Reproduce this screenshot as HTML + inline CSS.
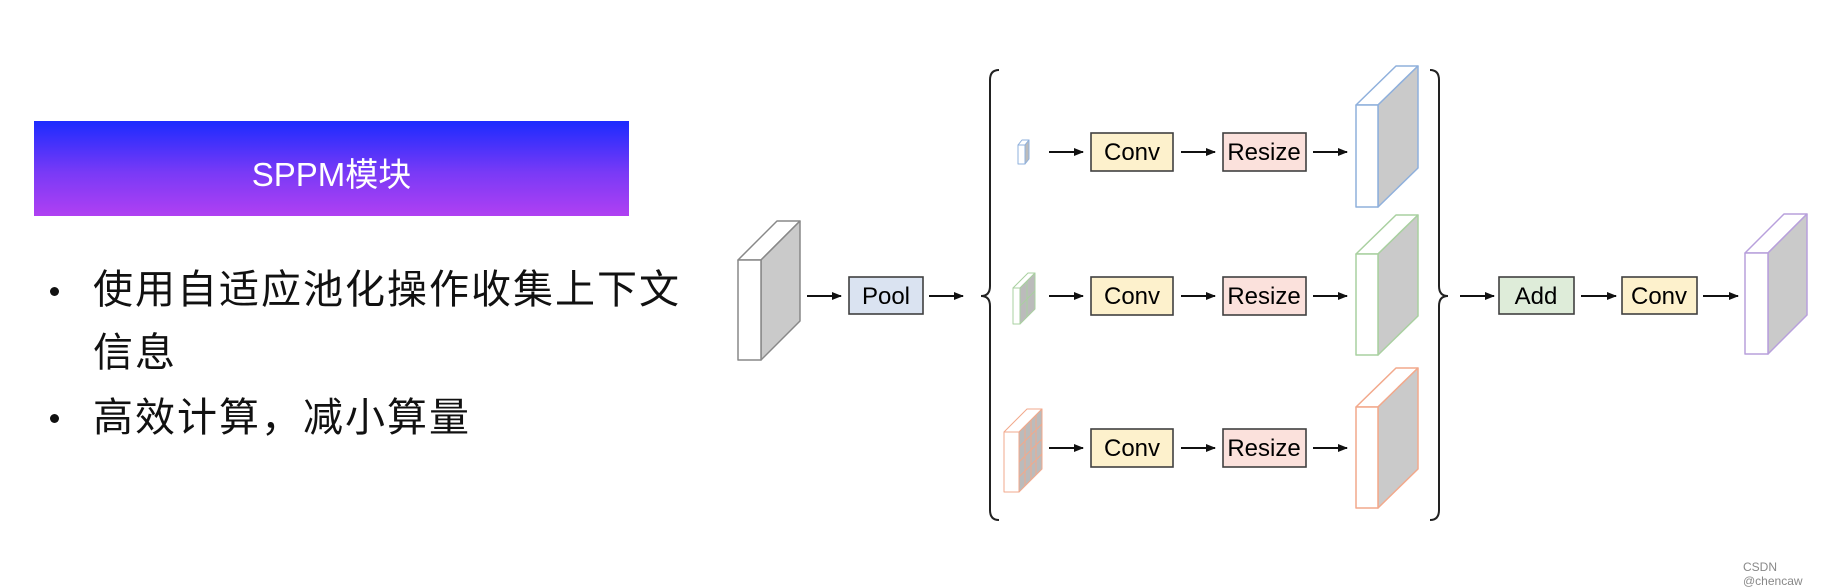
<!DOCTYPE html>
<html><head><meta charset="utf-8"><style>
html,body{margin:0;padding:0;background:#fff;}
body{width:1826px;height:583px;position:relative;overflow:hidden;font-family:"Liberation Sans","Noto Sans CJK SC",sans-serif;}
.hdr{position:absolute;left:34px;top:121px;width:595px;height:95px;background:linear-gradient(#1c2bff,#7a3af6 55%,#b040f2);}
.hdr span{position:absolute;left:0;right:0;top:27px;text-align:center;color:#fff;font-size:33px;font-family:"Liberation Sans","Noto Sans CJK SC",sans-serif;}
.t{position:absolute;font-size:40px;color:#111;white-space:nowrap;font-family:"Liberation Sans","Noto Sans CJK SC",sans-serif;line-height:1;letter-spacing:2px;}
.b{position:absolute;width:9px;height:9px;border-radius:50%;background:#111;}
svg{position:absolute;left:0;top:0;}
svg text{font-family:"Liberation Sans","DejaVu Sans",sans-serif;font-size:24px;fill:#000;text-anchor:middle;}
.wm{position:absolute;left:1743px;top:560px;font-size:12px;color:#888;}
</style></head><body>
<div class="hdr"><span>SPPM模块</span></div>
<div class="b" style="left:50px;top:287px"></div>
<div class="t" style="left:93px;top:270px">使用自适应池化操作收集上下文</div>
<div class="t" style="left:93px;top:333px">信息</div>
<div class="b" style="left:50px;top:414px"></div>
<div class="t" style="left:93px;top:398px">高效计算，减小算量</div>
<svg width="1826" height="583" viewBox="0 0 1826 583">
<defs><marker id="a" markerWidth="10" markerHeight="8" refX="9" refY="4" orient="auto" markerUnits="userSpaceOnUse"><path d="M0,0 L10,4 L0,8 z" fill="#111"/></marker></defs>
<g stroke="#111" stroke-width="2" marker-end="url(#a)">
<line x1="807" y1="296" x2="841" y2="296"/><line x1="929" y1="296" x2="963" y2="296"/>
<line x1="1049" y1="152" x2="1083" y2="152"/><line x1="1181" y1="152" x2="1215" y2="152"/><line x1="1313" y1="152" x2="1347" y2="152"/>
<line x1="1049" y1="296" x2="1083" y2="296"/><line x1="1181" y1="296" x2="1215" y2="296"/><line x1="1313" y1="296" x2="1347" y2="296"/>
<line x1="1049" y1="448" x2="1083" y2="448"/><line x1="1181" y1="448" x2="1215" y2="448"/><line x1="1313" y1="448" x2="1347" y2="448"/>
<line x1="1460" y1="296" x2="1494" y2="296"/><line x1="1581" y1="296" x2="1616" y2="296"/><line x1="1703" y1="296" x2="1738" y2="296"/>
</g>
<g fill="none" stroke="#222" stroke-width="2">
<path d="M999,70 Q990,70 990,80 L990,286 Q990,296 981,296 Q990,296 990,306 L990,510 Q990,520 999,520"/>
<path d="M1430,70 Q1439,70 1439,80 L1439,286 Q1439,296 1448,296 Q1439,296 1439,306 L1439,510 Q1439,520 1430,520"/>
</g>
<g stroke="#404040" stroke-width="1.6">
<rect x="849" y="277" width="74" height="37" fill="#dae3f1"/>
<rect x="1091" y="133" width="82" height="38" fill="#fdf1cc"/><rect x="1223" y="133" width="83" height="38" fill="#fbe1dc"/>
<rect x="1091" y="277" width="82" height="38" fill="#fdf1cc"/><rect x="1223" y="277" width="83" height="38" fill="#fbe1dc"/>
<rect x="1091" y="429" width="82" height="38" fill="#fdf1cc"/><rect x="1223" y="429" width="83" height="38" fill="#fbe1dc"/>
<rect x="1499" y="277" width="75" height="37" fill="#deecd9"/><rect x="1622" y="277" width="75" height="37" fill="#fdf1cc"/>
</g>
<text x="886" y="304">Pool</text>
<text x="1132" y="160">Conv</text><text x="1264" y="160">Resize</text>
<text x="1132" y="304">Conv</text><text x="1264" y="304">Resize</text>
<text x="1132" y="456">Conv</text><text x="1264" y="456">Resize</text>
<text x="1536" y="304">Add</text><text x="1659" y="304">Conv</text>
<!-- cubes -->
<g stroke-width="1.5" stroke-linejoin="round">
<g stroke="#888"><polygon points="738,260 777,221 800,221 761,260" fill="#fff"/><polygon points="761,260 800,221 800,321 761,360" fill="#cacaca"/><rect x="738" y="260" width="23" height="100" fill="#fff"/></g>
<g stroke="#8fb0dc"><polygon points="1356,105 1396,66 1418,66 1378,105" fill="#fff"/><polygon points="1378,105 1418,66 1418,168 1378,207" fill="#cacaca"/><rect x="1356" y="105" width="22" height="102" fill="#fff"/></g>
<g stroke="#a9d0a0"><polygon points="1356,254 1396,215 1418,215 1378,254" fill="#fff"/><polygon points="1378,254 1418,215 1418,316 1378,355" fill="#cacaca"/><rect x="1356" y="254" width="22" height="101" fill="#fff"/></g>
<g stroke="#f2a98c"><polygon points="1356,407 1396,368 1418,368 1378,407" fill="#fff"/><polygon points="1378,407 1418,368 1418,469 1378,508" fill="#cacaca"/><rect x="1356" y="407" width="22" height="101" fill="#fff"/></g>
<g stroke="#b8a0dc"><polygon points="1745,253 1784,214 1807,214 1768,253" fill="#fff"/><polygon points="1768,253 1807,214 1807,315 1768,354" fill="#cacaca"/><rect x="1745" y="253" width="23" height="101" fill="#fff"/></g>
<g stroke="#8fb0dc" stroke-width="1"><polygon points="1018,145 1022,140 1029,140 1025,145" fill="#fff"/><polygon points="1025,145 1029,140 1029,159 1025,164" fill="#bbb"/><rect x="1018" y="145" width="7" height="19" fill="#fff"/></g>
<g stroke="#a9d0a0" stroke-width="1"><polygon points="1013,288 1028,273 1035,273 1020,288" fill="#fff"/><polygon points="1020,288 1035,273 1035,309 1020,324" fill="#bbb"/><rect x="1013" y="288" width="7" height="36" fill="#fff"/><line x1="1020" y1="306" x2="1035" y2="291"/><line x1="1027" y1="281" x2="1027" y2="317"/></g>
<g stroke="#f2a98c" stroke-width="1"><polygon points="1004,432 1027,409 1042,409 1019,432" fill="#fff"/><polygon points="1019,432 1042,409 1042,469 1019,492" fill="#bbb"/><rect x="1004" y="432" width="15" height="60" fill="#fff"/>
<line x1="1019" y1="447" x2="1042" y2="424"/><line x1="1019" y1="462" x2="1042" y2="439"/><line x1="1019" y1="477" x2="1042" y2="454"/>
<line x1="1025" y1="426" x2="1025" y2="486"/><line x1="1031" y1="420" x2="1031" y2="480"/><line x1="1036" y1="415" x2="1036" y2="475"/></g>
</g>
</svg>
<div class="wm">CSDN @chencaw</div>
</body></html>
